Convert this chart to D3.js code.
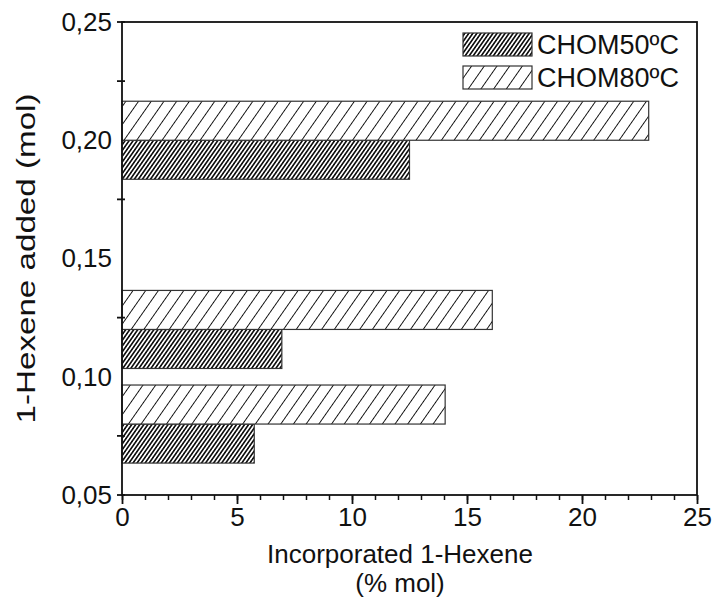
<!DOCTYPE html>
<html>
<head>
<meta charset="utf-8">
<script src="https://cdn.jsdelivr.net/npm/d3@7"></script>
<style>
  body { margin: 0; background: #fff; }
  text { font-family: "Liberation Sans", Arial, sans-serif; fill: #111; }
</style>
</head>
<body>
<svg id="chart"></svg>
<script>
// data
const hexeneAdded = [0.08, 0.12, 0.20];          // mol (y positions)
const chom50 = [5.75, 6.95, 12.5];               // % mol incorporated
const chom80 = [14.05, 16.1, 22.9];
const seriesNames = ["CHOM50ºC", "CHOM80ºC"];
const yTickLabels = [0.05, 0.10, 0.15, 0.20, 0.25];
const yTickMarks = [0.05, 0.075, 0.125, 0.175, 0.225, 0.25];
const xTickLabels = [0, 5, 10, 15, 20, 25];

const width = 717;
const height = 604;
const margin = {top: 22, right: 20, bottom: 109, left: 122};
const barThick = 0.0165; // bar thickness in mol units

const svg = d3.select("#chart")
  .attr("width", width)
  .attr("height", height);

const x = d3.scaleLinear().domain([0, 25]).range([margin.left, width - margin.right]);
const y = d3.scaleLinear().domain([0.05, 0.25]).range([height - margin.bottom, margin.top]);

// hatch patterns
const defs = svg.append("defs");
function hatch(id, spacing, sw) {
  const p = defs.append("pattern")
    .attr("id", id)
    .attr("patternUnits", "userSpaceOnUse")
    .attr("width", spacing)
    .attr("height", 20)
    .attr("patternTransform", "rotate(35)");
  p.append("rect").attr("width", spacing).attr("height", 20).attr("fill", "#fff");
  p.append("line")
    .attr("x1", spacing / 2).attr("x2", spacing / 2)
    .attr("y1", -1).attr("y2", 21)
    .attr("stroke", "#111")
    .attr("stroke-width", sw);
}
hatch("dense", 3.3, 1.7);
hatch("sparse", 10.4, 1);

const fills = ["url(#dense)", "url(#sparse)"];

// bars: CHOM50 below the y value, CHOM80 above
const barH = y(0) - y(barThick);
const g = svg.append("g");
g.selectAll(".b50")
  .data(hexeneAdded)
  .enter()
  .append("rect")
  .attr("x", x(0))
  .attr("y", d => y(d))
  .attr("width", (d, i) => x(chom50[i]) - x(0))
  .attr("height", barH)
  .attr("fill", fills[0])
  .attr("stroke", "#333")
  .attr("stroke-width", 1.2);

g.selectAll(".b80")
  .data(hexeneAdded)
  .enter()
  .append("rect")
  .attr("x", x(0))
  .attr("y", d => y(d) - barH)
  .attr("width", (d, i) => x(chom80[i]) - x(0))
  .attr("height", barH)
  .attr("fill", fills[1])
  .attr("stroke", "#333")
  .attr("stroke-width", 1.2);

// frame
svg.append("rect")
  .attr("x", x(0))
  .attr("y", y(0.25))
  .attr("width", x(25) - x(0))
  .attr("height", y(0.05) - y(0.25))
  .attr("fill", "none")
  .attr("stroke", "#111")
  .attr("stroke-width", 1.8);

// x axis, minor then major ticks
const xAxis = d3.axisBottom(x)
  .tickValues(d3.range(0, 26, 1))
  .tickSize(5)
  .tickFormat("");
svg.append("g")
  .attr("transform", `translate(0,${y(0.05)})`)
  .call(xAxis)
  .call(a => a.select(".domain").remove())
  .call(a => a.selectAll("line").attr("stroke", "#111").attr("stroke-width", 1.5));

const xMajor = d3.axisBottom(x)
  .tickValues(xTickLabels)
  .tickSize(9)
  .tickPadding(4);
svg.append("g")
  .attr("transform", `translate(0,${y(0.05)})`)
  .call(xMajor)
  .call(a => a.select(".domain").remove())
  .call(a => a.selectAll("line").attr("stroke", "#111").attr("stroke-width", 1.8))
  .call(a => a.selectAll("text").attr("font-size", 26).attr("fill", "#111")
    .attr("font-family", "Liberation Sans, Arial, sans-serif"));

// y axis labels (no ticks at labels) and tick marks in between
const yAxis = d3.axisLeft(y)
  .tickValues(yTickLabels)
  .tickSize(0)
  .tickPadding(10)
  .tickFormat(d => d3.format(".2f")(d).replace(".", ","));
svg.append("g")
  .attr("transform", `translate(${x(0)},0)`)
  .call(yAxis)
  .call(a => a.select(".domain").remove())
  .call(a => a.selectAll("text").attr("font-size", 26).attr("fill", "#111")
    .attr("font-family", "Liberation Sans, Arial, sans-serif"));

svg.append("g")
  .selectAll("line")
  .data(yTickMarks)
  .enter()
  .append("line")
  .attr("x1", x(0) - 5)
  .attr("x2", x(0) + 3)
  .attr("y1", d => y(d))
  .attr("y2", d => y(d))
  .attr("stroke", "#111")
  .attr("stroke-width", 1.8);

// axis titles
svg.append("text")
  .attr("x", 400)
  .attr("y", 563)
  .attr("text-anchor", "middle")
  .attr("font-size", 26)
  .text("Incorporated 1-Hexene");
svg.append("text")
  .attr("x", 400)
  .attr("y", 592)
  .attr("text-anchor", "middle")
  .attr("font-size", 26)
  .text("(% mol)");

svg.append("text")
  .attr("transform", `translate(35,${(y(0.05) + y(0.25)) / 2}) rotate(-90)`)
  .attr("text-anchor", "middle")
  .attr("font-size", 26)
  .attr("textLength", 330)
  .attr("lengthAdjust", "spacingAndGlyphs")
  .text("1-Hexene added (mol)");

// legend
const legend = svg.append("g").attr("transform", "translate(463,33)");
seriesNames.forEach((name, i) => {
  legend.append("rect")
    .attr("x", 0)
    .attr("y", i * 33)
    .attr("width", 69)
    .attr("height", 23)
    .attr("fill", fills[i])
    .attr("stroke", "#333")
    .attr("stroke-width", 1.2);
  legend.append("text")
    .attr("x", 74)
    .attr("y", i * 33 + 11.5)
    .attr("dy", "0.36em")
    .attr("font-size", 27)
    .text(name);
});
</script>
</body>
</html>
